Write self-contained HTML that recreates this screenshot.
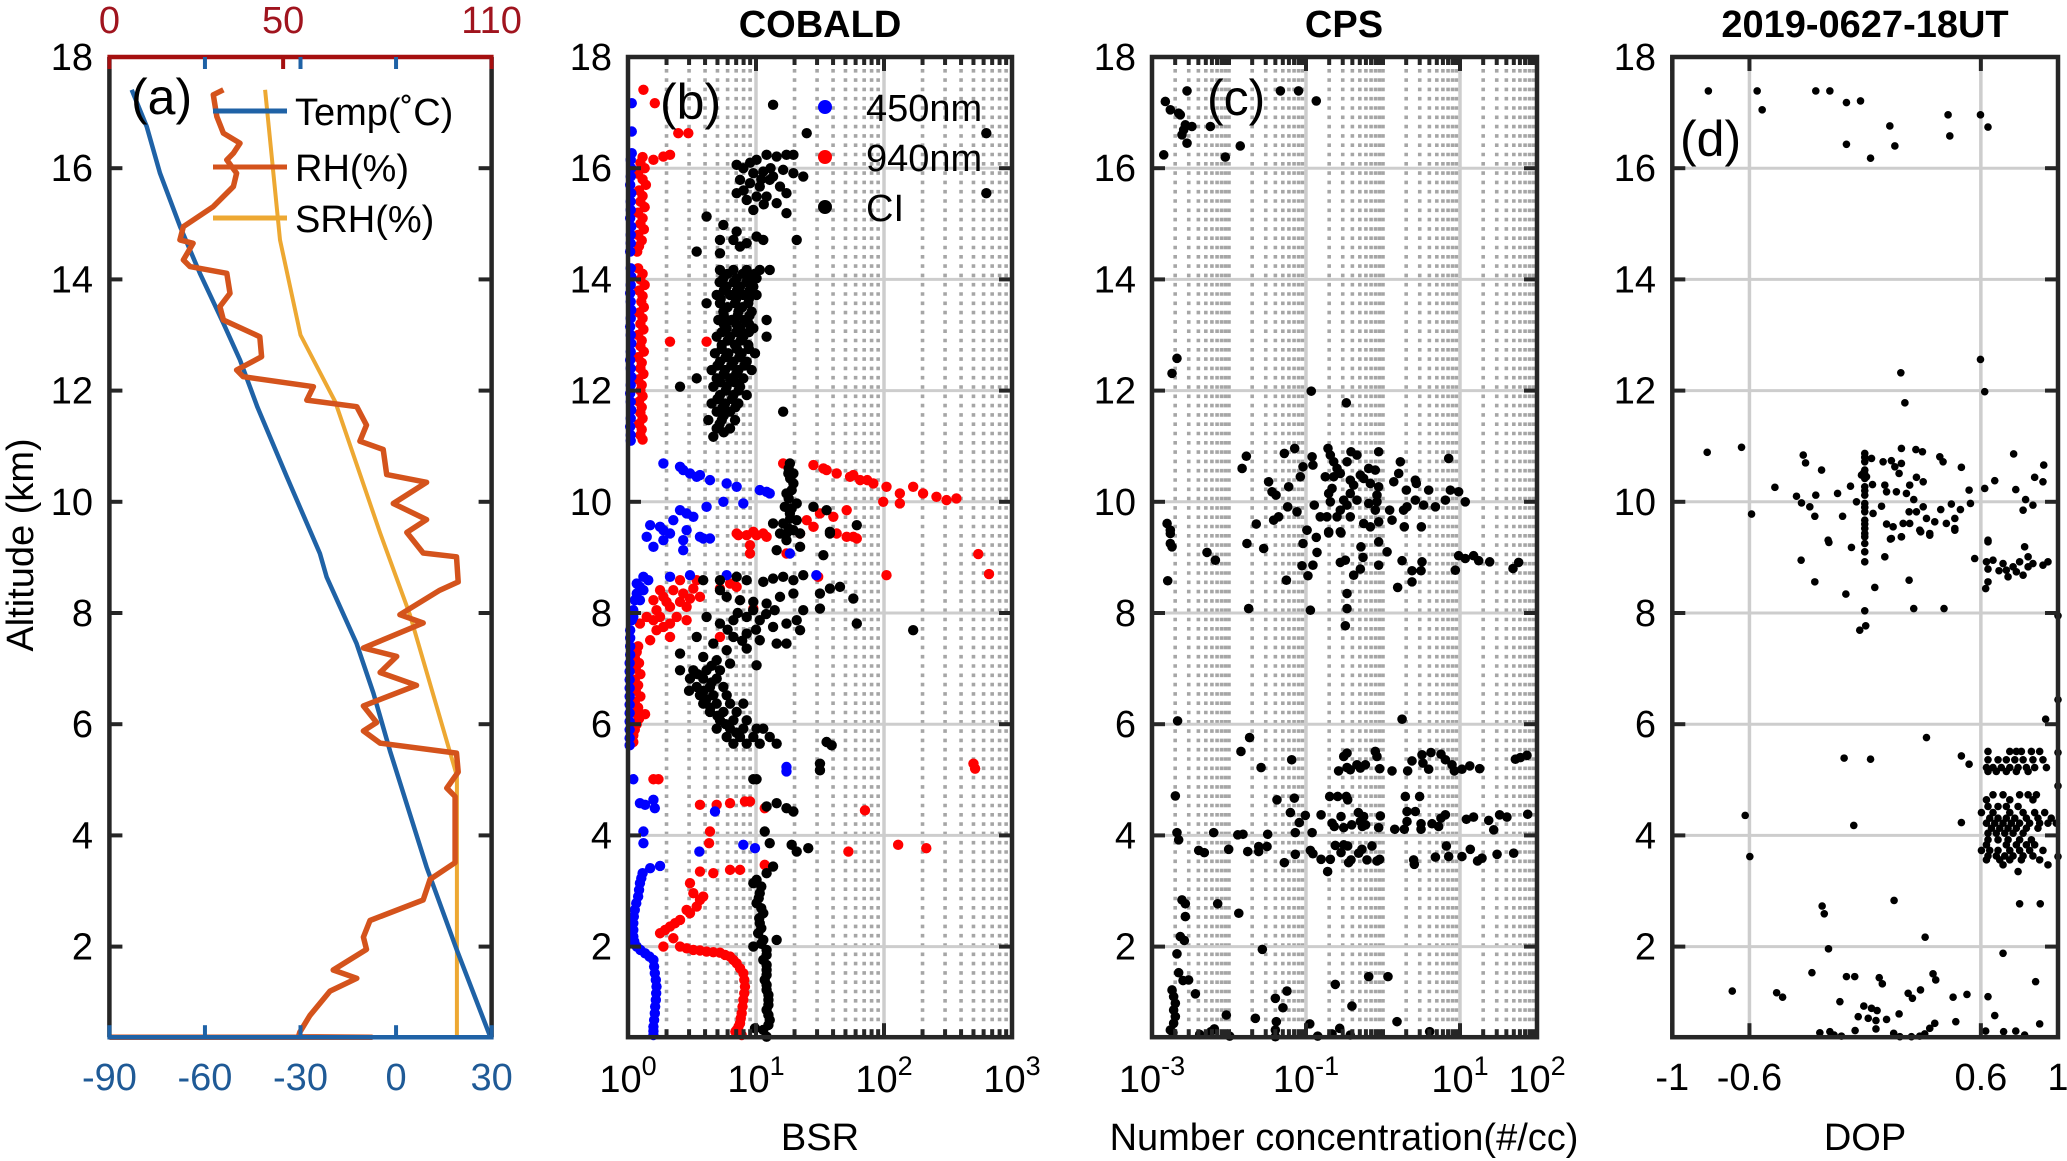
<!DOCTYPE html>
<html><head><meta charset="utf-8"><title>COBALD / CPS / DOP profiles</title>
<style>
html,body{margin:0;padding:0;background:#fff;}
svg{display:block;font-family:"Liberation Sans",Arial,sans-serif;}
</style></head>
<body>
<svg id="chart" xmlns="http://www.w3.org/2000/svg" width="2067" height="1161" viewBox="0 0 2067 1161"></svg>
<script>
// ---------- Panel (a) data: [value, altitude km] ----------
const tempProfile=[[-83.0,17.41],[-78.3,16.75],[-74.1,15.91],[-67.8,14.95],[-61.6,14.11],[-54.2,13.21],[-49.0,12.55],[-43.5,11.7],[-34.3,10.45],[-23.9,9.07],[-21.8,8.65],[-12.4,7.45],[-7.1,6.56],[-1.9,5.52],[9.6,3.43],[19.0,1.95],[29.5,0.39]];
const rhProfile=[[32.8,17.41],[29.9,17.32],[30.9,16.93],[32.8,16.63],[37.6,16.45],[35.7,16.27],[33.8,16.15],[36.6,15.91],[35.7,15.67],[29.9,15.31],[21.3,14.95],[20.3,14.71],[24.1,14.65],[21.3,14.35],[23.2,14.23],[33.8,14.11],[34.7,13.75],[31.8,13.51],[32.8,13.27],[43.3,12.97],[43.8,12.61],[36.6,12.37],[38.5,12.25],[58.7,12.07],[56.8,11.83],[71.2,11.71],[74.0,11.38],[72.1,11.09],[78.8,10.94],[79.8,10.49],[91.3,10.35],[81.7,9.97],[91.3,9.68],[85.6,9.45],[90.3,9.08],[99.9,9.01],[100.4,8.56],[95.1,8.41],[83.6,7.97],[90.3,7.82],[73.1,7.37],[82.7,7.22],[77.9,6.93],[88.4,6.70],[73.1,6.33],[76.9,6.03],[73.1,5.88],[77.9,5.66],[99.9,5.48],[100.4,5.14],[97.1,4.85],[99.5,4.70],[99.5,3.51],[92.3,3.21],[90.3,2.84],[75.0,2.47],[73.1,2.17],[74.0,1.95],[64.4,1.58],[71.2,1.43],[63.5,1.20],[57.7,0.76],[54.8,0.46],[54.4,0.38],[75.5,0.37],[0,0.37]];
const srhProfile=[[44.8,17.41],[49.1,14.71],[55.0,13.0],[65.0,11.8],[77.9,9.44],[86.5,7.97],[100,5.07],[100,0.37]];
const tempTicks=[-90,-60,-30,0,30];
const rhTicks=[0,50,110];
const altTicks=[2,4,6,8,10,12,14,16,18];

// ---------- Panel (b) COBALD BSR data: [BSR, altitude] ----------
const bsr450=[[1.07,17.17],[1.07,16.66],[1.07,16.27],[1.05,16.15],[1.06,16.0],[1.05,15.85],[1.04,15.7],[1.06,15.55],[1.05,15.4],[1.05,15.25],[1.04,15.1],[1.06,14.95],[1.05,14.8],[1.05,14.65],[1.04,14.5],[1.05,14.2],[1.06,14.05],[1.05,13.9],[1.04,13.75],[1.05,13.6],[1.06,13.45],[1.05,13.3],[1.04,13.15],[1.05,13.0],[1.06,12.85],[1.05,12.7],[1.04,12.55],[1.05,12.4],[1.06,12.25],[1.05,12.1],[1.04,11.95],[1.05,11.8],[1.06,11.65],[1.05,11.5],[1.04,11.35],[1.05,11.2],[1.05,11.1],
[1.89,10.69],[2.55,10.63],[3.05,10.51],[3.65,10.48],[4.37,10.39],[5.9,10.33],[7.06,10.27],[10.7,10.21],[12.8,10.15],[5.56,10.0],[7.96,9.97],[4.11,9.91],[2.87,9.79],[2.26,9.67],[1.78,9.55],[1.49,9.58],[2.13,9.43],[3.65,9.37],[2.87,9.49],[2.7,10.57],[3.44,10.45],[12.1,10.18],[2.55,9.85],[3.24,9.73],[1.89,9.49],
[1.4,9.37],[1.58,9.19],[1.89,9.31],[2.7,9.31],[3.87,9.34],[2.7,9.13],[4.37,9.34],
[1.32,8.65],[1.44,8.59],[1.24,8.47],[1.17,8.35],[1.13,8.23],[1.1,8.05],[1.07,7.87],[1.04,7.69],[1.04,7.55],[1.04,7.4],[1.04,7.25],[1.03,7.1],[1.03,6.95],[1.03,6.8],[1.03,6.65],[1.03,6.5],[1.03,6.35],[1.03,6.2],[1.03,6.05],[1.03,5.9],[1.03,5.75],[1.03,5.62],[1.17,8.53],[1.32,8.41],[1.24,8.23],[1.1,7.93],[2.13,8.65],[3.05,8.68],[5.9,8.68],[29.6,8.68],[18.4,9.07],
[1.1,5.01],[1.24,4.58],[1.58,4.64],[1.62,4.49],[1.36,4.55],[4.78,4.43],[1.32,4.07],[1.32,3.86],[3.61,3.71],[7.96,3.83],[9.82,3.77],[1.78,3.45],[1.49,3.41],[17.3,5.23],[17.3,5.15],
[1.3,3.32],[1.24,3.14],[1.2,2.9],[1.13,2.66],[1.1,2.42],[1.1,2.18],[1.17,2.0],[1.36,1.88],[1.58,1.76],[1.62,1.52],[1.67,1.28],[1.65,1.04],[1.62,0.8],[1.58,0.56],[1.58,0.41],[1.27,3.23],[1.22,3.02],[1.16,2.78],[1.11,2.54],[1.1,2.3],[1.12,2.09],[1.25,1.94],[1.47,1.82],[1.6,1.64],[1.65,1.4],[1.66,1.16],[1.63,0.92],[1.6,0.68],[1.58,0.48]];
const bsr940=[[1.32,17.41],[1.62,17.17],[2.47,16.63],[2.96,16.63],[1.89,16.21],[2.13,16.24],[1.58,16.15],[2.13,12.88],[4.11,12.88],
[1.3,16.2],[1.25,16.1],[1.35,16.0],[1.2,15.9],[1.3,15.8],[1.38,15.7],[1.22,15.6],[1.3,15.5],[1.25,15.4],[1.35,15.3],[1.2,15.2],[1.3,15.1],[1.25,15.0],[1.33,14.9],[1.2,14.8],[1.28,14.7],[1.22,14.6],[1.18,14.5],[1.2,14.2],[1.3,14.1],[1.25,14.0],[1.35,13.9],[1.22,13.8],[1.3,13.7],[1.27,13.6],[1.33,13.5],[1.22,13.4],[1.3,13.3],[1.25,13.2],[1.32,13.1],[1.2,13.0],[1.28,12.9],[1.25,12.8],[1.33,12.7],[1.2,12.6],[1.28,12.5],[1.25,12.4],[1.32,12.3],[1.2,12.2],[1.28,12.1],[1.25,12.0],[1.3,11.9],[1.22,11.8],[1.28,11.7],[1.25,11.6],[1.3,11.5],[1.22,11.4],[1.28,11.3],[1.25,11.2],[1.3,11.12],
[16.3,10.69],[28.1,10.66],[33.6,10.6],[42.7,10.51],[54.3,10.45],[65.1,10.39],[82.6,10.33],[104.6,10.27],[133,10.15],[169,10.27],[202,10.15],[257,10.09],[308,10.03],[368,10.06],[98.6,10.0],[133,9.97],[31.6,9.79],[40.2,9.73],[51.1,9.85],[24.9,9.67],[28.1,9.55],[22.1,9.43],[42.7,9.43],[57.6,9.37],[7.06,9.43],[9.53,9.46],[11.4,9.43],[35.6,10.57],[57.6,10.48],[74,10.39],
[7.28,9.4],[8.46,9.4],[10.1,9.4],[12.1,9.37],[8.98,9.22],[8.98,9.07],[17.3,9.07],[51.1,9.37],[61.3,9.34],[545,9.06],[661,8.7],[104.6,8.68],[30.6,8.65],
[1.58,8.23],[1.89,8.29],[2.26,8.41],[2.7,8.35],[3.24,8.44],[3.65,8.29],[2.13,8.11],[2.87,8.11],[1.67,8.05],[2.4,7.93],[1.58,7.87],[1.89,7.75],[1.4,7.93],[1.24,7.81],[2.13,7.57],[1.49,7.51],[2.87,7.87],[2.55,8.59],[3.44,8.59],[6.27,8.53],[5.23,8.44],[7.06,8.47],[9.53,8.08],[5.23,7.57],[1.78,8.41],[2.0,8.2],[2.55,8.2],[3.05,8.26],[1.78,7.93],[2.13,7.81],[1.67,7.69],
[1.2,7.4],[1.17,7.3],[1.13,7.2],[1.22,7.1],[1.15,7.0],[1.25,6.9],[1.13,6.8],[1.2,6.7],[1.15,6.6],[1.25,6.5],[1.13,6.4],[1.2,6.3],[1.15,6.2],[1.22,6.1],[1.17,6.0],[1.13,5.9],[1.1,5.8],[1.1,5.68],[1.36,6.18],
[500,5.29],[515,5.2],[1.58,5.01],[1.73,5.01],[3.65,4.55],[4.93,4.55],[6.27,4.58],[8.2,4.61],[8.98,4.61],[11.7,4.49],[71,4.45],[4.37,4.07],[4.3,3.86],[52.7,3.71],[129,3.83],[214,3.77],
[6.27,3.38],[7.5,3.38],[11.7,3.47],[3.65,3.35],[4.64,3.32],[3.05,3.14],[3.24,2.96],[3.65,2.84],[3.87,2.9],[3.44,2.72],[3.05,2.6],[2.55,2.48],[2.13,2.36],[1.78,2.24],[2.26,2.15],[1.89,2.0],[2.55,2.0],[3.24,1.94],[4.11,1.91],[5.23,1.89],[6.27,1.82],[7.06,1.7],[7.96,1.52],[8.2,1.28],[7.96,1.04],[7.73,0.8],[7.5,0.62],[7.06,0.5],[7.73,0.41],[2.87,2.66],[2.33,2.42],[1.95,2.3],[2.87,1.97],[3.65,1.93],[4.64,1.9],[5.73,1.85],[6.66,1.76],[7.5,1.61],[8.1,1.4],[8.1,1.16],[7.85,0.92],[7.6,0.71],[7.3,0.56],[6.9,0.47]];
const bsrCI=[[7.06,16.06],[7.96,16.0],[10.1,16.15],[12.1,16.24],[14.5,16.21],[17.3,16.24],[19.6,16.24],[9.53,15.91],[11.4,15.94],[13.6,15.85],[16.3,15.97],[19.6,15.91],[23.4,15.85],[7.5,15.79],[8.98,15.73],[10.7,15.67],[12.8,15.79],[15.4,15.67],[17.3,15.55],[7.06,15.55],[8.46,15.43],[10.1,15.49],[12.1,15.49],[14.5,15.37],[9.53,15.25],[17.3,15.19],[20.8,14.71],[13.6,17.14],[24.9,16.63],[630,16.63],[630,15.55],[4.11,15.13],[9,16.1],[11,15.8],[13,16.0],[8,15.6],[11.5,15.35],
[5.56,14.98],[7.06,14.86],[5.23,14.71],[6.66,14.71],[7.5,14.59],[8.46,14.65],[10.1,14.77],[11.4,14.71],[3.44,14.5],[5.23,14.47],
[5.23,14.17],[6.66,14.17],[8.46,14.17],[10.7,14.17],[12.8,14.17],[5.56,14.02],[7.06,14.02],[8.98,14.02],[10.1,14.02],[5.9,13.87],[7.5,13.87],[9.53,13.87],[4.93,13.72],[6.27,13.72],[7.96,13.72],[10.1,13.72],[4.11,13.57],[5.23,13.57],[6.86,13.57],[8.71,13.57],[5.56,13.42],[7.28,13.42],[9.25,13.42],[5.08,13.27],[6.46,13.27],[8.2,13.27],[12.1,13.27],[5.9,13.12],[7.5,13.12],[9.53,13.12],[4.93,12.97],[6.27,12.97],[7.96,12.97],[12.1,12.97],[5.4,12.82],[6.86,12.82],[8.71,12.82],[4.78,12.67],[6.08,12.67],[7.73,12.67],[9.82,12.67],[5.23,12.52],[6.66,12.52],[8.46,12.52],[4.5,12.37],[5.73,12.37],[7.28,12.37],[9.25,12.37],[3.44,12.22],[4.93,12.22],[6.27,12.22],[7.96,12.22],[2.55,12.07],[4.64,12.07],[5.9,12.07],[7.5,12.07],[5.23,11.92],[6.66,11.92],[8.46,11.92],[4.5,11.77],[5.73,11.77],[7.28,11.77],[4.93,11.62],[6.27,11.62],[16.3,11.62],[4.24,11.47],[5.4,11.47],[6.86,11.47],[4.93,11.32],[6.27,11.32],[4.64,11.17],
[6.0,14.1],[7.9,14.1],[9.8,14.1],[5.2,13.95],[6.7,13.95],[8.4,13.95],[5.6,13.8],[7.1,13.8],[8.9,13.8],[5.3,13.65],[7.0,13.65],[8.8,13.65],[6.0,13.5],[7.8,13.5],[5.6,13.35],[7.2,13.35],[8.9,13.35],[5.6,13.2],[7.0,13.2],[8.8,13.2],[5.4,13.05],[7.0,13.05],[8.8,13.05],[6.0,12.9],[7.6,12.9],[5.4,12.75],[7.1,12.75],[8.8,12.75],[5.8,12.6],[7.4,12.6],[5.0,12.45],[6.4,12.45],[8.1,12.45],[5.6,12.3],[7.0,12.3],[5.3,12.15],[6.8,12.15],[5.8,12.0],[7.3,12.0],[5.0,11.85],[6.5,11.85],[5.5,11.7],[6.9,11.7],[5.6,11.55],[5.2,11.4],[5.6,11.25],
[18.4,10.69],[17.9,10.51],[19.6,10.33],[17.3,10.15],[20.8,9.97],[18.4,9.79],[16.3,9.61],[20.8,9.67],[17.3,9.43],[22.1,9.43],[13.6,9.61],[28.1,9.91],[35.6,9.85],[61.3,9.58],[37.8,9.46],[19.6,10.51],[16.8,9.91],[19,10.21],[18,10.6],[18.5,10.42],[18,10.06],[19,9.88],[18.5,9.7],[18,9.52],
[15.4,9.43],[19.6,9.49],[14.5,9.13],[22.1,9.19],[33.6,9.04],[37.8,9.43],[17.3,9.31],
[3.87,8.59],[5.23,8.59],[7.06,8.65],[8.46,8.59],[11.4,8.56],[13.6,8.62],[16.3,8.65],[19.6,8.59],[23.4,8.68],[31.6,8.35],[37.8,8.44],[45.3,8.47],[57.6,8.26],[31.6,8.08],[5.9,8.29],[7.5,8.23],[9.53,8.2],[12.1,8.17],[15.4,8.29],[19.6,8.35],[23.4,8.05],[5.23,8.41],
[4.11,7.93],[5.23,7.81],[6.66,7.87],[8.46,7.93],[10.7,7.87],[13.6,7.75],[17.3,7.81],[22.1,7.69],[20.8,7.87],[61.3,7.81],[169,7.69],[6.66,7.57],[8.46,7.63],[10.7,7.51],[14.5,7.45],[17.3,7.45],[3.44,7.57],[4.64,7.45],[5.9,7.33],[8.46,7.36],[2.55,7.27],[3.87,7.21],[4.93,7.15],[6.27,7.09],[10.1,7.06],[7.2,8.0],[9.5,8.05],[12,7.98],[14,8.05],[6.0,7.7],[7.8,7.5],[10,7.7],
[2.55,6.97],[3.24,6.97],[4.11,6.97],[5.23,6.97],[3.05,6.82],[3.87,6.82],[4.93,6.82],[3.44,6.67],[4.37,6.67],[5.56,6.67],[3.65,6.52],[4.64,6.52],[5.9,6.52],[3.87,6.37],[4.93,6.37],[6.27,6.37],[7.96,6.37],[4.37,6.22],[5.56,6.22],[7.06,6.22],[5.23,6.07],[6.66,6.07],[8.46,6.07],[4.93,5.92],[6.27,5.92],[7.96,5.92],[10.1,5.92],[11.4,5.92],[5.9,5.77],[7.5,5.77],[9.53,5.77],[12.8,5.77],[6.66,5.65],[8.46,5.65],[10.7,5.65],[14.5,5.65],[35.6,5.68],[39,5.62],[3.5,6.9],[4.5,6.75],[3.9,6.6],[4.1,6.45],[4.4,6.3],[5.0,6.15],[5.8,6.0],[7.0,5.85],[3.0,6.6],[4.5,7.05],
[31.6,5.29],[31.6,5.17],[9.53,5.01],[10.1,5.01],[12.1,4.52],[14.5,4.58],[17.3,4.49],[19.6,4.43],[11.7,4.07],[12.8,3.86],[19,3.83],[20.8,3.71],[25.6,3.77],
[13.6,3.44],[12.1,3.32],[10.1,3.2],[9.53,3.14],[10.7,2.96],[10.1,2.78],[11.4,2.6],[10.7,2.42],[10.4,2.24],[11.4,2.12],[14.5,2.12],[9.53,2.0],[12.1,1.94],[11.4,1.76],[12.1,1.58],[11.7,1.4],[12.1,1.22],[12.5,1.04],[12.1,0.86],[12.8,0.68],[11.4,0.5],[9.82,0.53],[12.1,0.38],[11,3.08],[11,2.69],[11,2.33],[12.1,1.85],[12.1,1.67],[12.1,1.49],[12.1,1.31],[12.5,1.13],[12.5,0.95],[12.5,0.77],[12.5,0.59],[10.5,2.87],[10.6,2.51],[11,2.05]];
const bsrTickExp=[0,1,2,3];

// ---------- Panel (c) CPS number concentration: [#/cc, altitude] ----------
const cpsConc=[[1.49e-3,17.2],[1.73e-3,17.05],[2.22e-3,16.99],[2.33e-3,16.96],[2.71e-3,16.78],[3.3e-3,16.75],[2.58e-3,16.69],[2.45e-3,16.6],[2.85e-3,16.45],[1.42e-3,16.24],[5.73e-3,16.75],[8.95e-3,16.2],[0.014,16.4],[2.85e-3,17.39],[0.0465,17.39],[0.08,17.39],[0.136,17.21],
[2.11e-3,12.58],[1.82e-3,12.31],[0.117,11.99],[0.334,11.78],
[0.0148,10.6],[0.0168,10.82],[0.0327,10.36],[0.0362,10.18],[0.0408,10.12],[0.0596,10.27],[0.0523,10.87],[0.0713,10.96],[0.0914,10.63],[0.0844,10.45],[0.12,10.81],[0.123,10.66],[0.128,9.94],[0.193,10.96],[0.207,10.84],[0.229,10.72],[0.253,10.6],[0.341,10.72],[0.384,10.9],[0.459,10.84],[0.879,10.9],[0.652,10.6],[0.794,10.57],[1.68,10.72],[1.6,10.51],[1.38,10.36],[2.63,10.39],[2.71,10.33],[2.01,10.21],[3.92,10.21],[7.13,10.78],[7.49,10.21],[9.6,10.18],[11.7,10.0],[6.46,10.03],[4.79,9.91],[3.37,9.94],[2.63,10.03],[2.05,9.91],[1.85,9.85],[1.22,9.85],[0.879,10.27],[0.835,10.12],[0.835,10.0],[0.652,9.97],[0.794,9.85],[0.508,10.48],[0.561,10.42],[0.685,10.33],[0.416,10.3],[0.376,10.39],[0.309,10.03],[0.341,9.94],[0.279,9.85],[0.207,10.0],[0.197,10.15],[0.218,10.24],[0.178,10.45],[0.229,10.45],[0.279,10.51],[0.376,10.15],[0.459,10.03],[0.153,9.73],[0.187,9.73],[0.253,9.73],[0.376,9.73],[0.561,9.61],[0.685,9.55],[0.879,9.64],[1.31,9.67],[1.89,9.55],[3.15,9.55],[0.103,9.49],[0.197,9.46],[0.279,9.46],[0.038,9.67],[0.0441,9.73],[0.0764,9.82],[0.0578,9.91],[0.0226,9.6],[1.57e-3,9.61],[1.73e-3,9.49],
[1.73e-3,9.43],[1.73e-3,9.25],[1.82e-3,9.19],[1.6e-3,8.58],[5.18e-3,9.09],[6.65e-3,8.95],[0.0171,9.25],[0.0282,9.16],[0.018,8.08],[0.0556,8.59],[0.0914,9.25],[0.0887,8.85],[0.123,8.86],[0.106,8.67],[0.136,9.36],[0.139,9.09],[0.103,9.49],[0.197,9.44],[0.285,9.44],[0.279,8.91],[0.324,8.95],[0.416,8.68],[0.508,8.79],[0.517,9.19],[0.55,9.0],[0.879,9.28],[0.879,8.86],[1.13,9.1],[0.341,8.35],[0.341,8.08],[0.324,7.77],[0.114,8.05],[1.77,8.94],[2.38,8.76],[2.38,8.56],[1.55,8.46],[3.21,8.92],[3.12,8.76],[8.69,8.77],[9.6,9.03],[11.7,8.98],[15.0,9.03],[17.5,8.94],[24.3,8.92],[48.8,8.8],[57.8,8.91],
[2.15e-3,6.06],[1.77,6.09],
[0.0185,5.76],[0.0143,5.51],[0.0261,5.22],[0.0652,5.36],[0.309,5.42],[0.341,5.48],[0.265,5.16],[0.341,5.22],[0.376,5.18],[0.459,5.27],[0.508,5.21],[0.59,5.27],[0.794,5.51],[0.835,5.42],[0.906,5.2],[1.31,5.16],[2.09,5.16],[2.38,5.34],[3.21,5.45],[3.3,5.3],[3.92,5.19],[4.2,5.49],[5.66,5.46],[6.46,5.36],[7.87,5.27],[8.44,5.16],[10.6,5.19],[13.4,5.25],[18.0,5.2],[52.4,5.37],[60.8,5.4],[74.1,5.44],
[2.01e-3,4.71],[0.042,4.64],[0.0705,4.67],[0.203,4.7],[0.258,4.7],[0.334,4.7],[0.348,4.64],[0.0627,4.41],[0.098,4.36],[0.0818,4.23],[0.0726,4.05],[0.12,4.05],[0.157,4.37],[0.218,4.22],[0.233,4.16],[0.285,4.34],[0.309,4.14],[0.392,4.19],[0.479,4.41],[0.508,4.25],[0.561,4.34],[0.595,4.19],[0.539,4.16],[0.923,4.35],[0.879,4.14],[1.42,4.11],[1.95,4.7],[2.99,4.7],[2.05,4.43],[2.63,4.43],[2.05,4.25],[1.89,4.11],[3.12,4.21],[3.12,4.11],[4.33,4.21],[5.28,4.16],[5.66,4.31],[6.46,4.37],[12.1,4.29],[15.0,4.33],[23.6,4.27],[27.4,4.1],[32.7,4.37],[40.7,4.33],[75.7,4.38],
[2.11e-3,4.05],[2.22e-3,3.92],[6.32e-3,4.05],[4.04e-3,3.73],[4.78e-3,3.69],[9.91e-3,3.75],[0.013,4.01],[0.0152,4.02],[0.0175,3.71],[0.0243,3.71],[0.0243,3.8],[0.0312,3.8],[0.0318,4.02],[0.0523,3.51],[0.0726,3.66],[0.114,3.73],[0.123,3.67],[0.157,3.57],[0.207,3.57],[0.191,3.35],[0.24,3.82],[0.309,3.83],[0.348,3.81],[0.285,3.69],[0.384,3.56],[0.358,3.51],[0.483,3.68],[0.533,3.75],[0.619,3.56],[0.719,3.81],[0.835,3.54],[0.906,3.57],[2.5,3.56],[2.55,3.48],[4.79,3.61],[6.65,3.81],[7.13,3.62],[10.6,3.62],[13.6,3.75],[16.9,3.54],[19.3,3.59],[30.3,3.66],[49.8,3.68],
[2.45e-3,2.84],[2.71e-3,2.77],[2.71e-3,2.54],[7.13e-3,2.77],[0.0134,2.6],[2.33e-3,2.18],[2.63e-3,2.11],[2.11e-3,1.87],[2.22e-3,1.53],[2.53e-3,1.39],[2.99e-3,1.4],[3.66e-3,1.15],[1.82e-3,1.22],[1.91e-3,1.1],[2.01e-3,0.98],[1.91e-3,0.86],[2.01e-3,0.74],[1.91e-3,0.62],[1.73e-3,0.5],[1.87e-3,0.45],[9.23e-3,0.77],[0.0271,1.95],[0.04,1.07],[0.0502,0.9],[0.0566,1.2],[0.022,0.71],[0.0412,0.65],[0.04,0.5],[0.04,0.38],[0.112,0.61],[0.142,0.39],[0.218,0.43],[0.274,0.53],[0.376,0.41],[0.24,1.32],[0.395,0.93],[0.652,1.46],[1.16,1.46],[1.52,0.65],[4.04,0.47],[4.16e-3,0.42],[5.83e-3,0.47],[6.45e-3,0.52],[0.0102,0.39]];
const cpsTickExp=[-3,-1,1,2];

// ---------- Panel (d) DOP: [DOP, altitude] ----------
const dopValues=[[-0.813,17.39],[-0.56,17.39],[-0.534,17.05],[-0.256,17.39],[-0.183,17.39],[-0.097,17.18],[-0.024,17.21],[-0.097,16.43],[0.028,16.18],[0.128,16.76],[0.154,16.4],[0.43,16.96],[0.439,16.58],[0.598,16.96],[0.637,16.74],
[0.185,12.32],[0.598,12.56],[0.62,11.98],[0.206,11.78],
[-0.819,10.89],[-0.641,10.98],[-0.589,9.78],[-0.468,10.26],[-0.356,10.1],[-0.321,10.84],[-0.309,10.7],[-0.33,9.98],[-0.287,9.91],[-0.256,10.12],[-0.261,9.74],[-0.226,10.57],[-0.143,10.15],[-0.117,9.74],[-0.076,10.28],[-0.045,10.0],[-0.01,10.51],[0.033,10.78],[0.038,10.31],[0.041,9.79],[0.085,9.92],[0.093,10.72],[0.102,10.3],[0.111,10.18],[0.136,10.74],[0.154,10.63],[0.176,10.51],[0.188,10.69],[0.188,10.96],[0.162,10.18],[0.214,10.15],[0.231,10.3],[0.252,10.04],[0.263,10.94],[0.297,10.9],[0.266,10.44],[0.301,10.36],[0.228,9.82],[0.266,9.82],[0.301,9.91],[0.318,9.7],[0.361,9.64],[0.387,10.81],[0.404,10.72],[0.499,10.62],[0.392,9.86],[0.447,9.96],[0.465,9.7],[0.494,9.86],[0.539,10.21],[0.546,9.97],[0.62,10.24],[0.672,10.38],[0.77,10.86],[0.781,10.22],[0.832,10.04],[0.819,9.85],[0.87,9.94],[0.879,10.44],[0.922,10.36],[0.926,10.66],[0.111,9.6],[0.145,9.55],[0.197,9.61],[0.231,9.61],[0.283,9.49],[0.335,9.43],[0.465,9.52],[0.421,9.61],[0.136,9.34],[0.188,9.37],[-0.192,9.31],[0.637,9.31],
[-0.002,10.87],[-0.002,10.72],[-0.002,10.57],[-0.002,10.42],[-0.002,10.27],[-0.002,10.12],[-0.002,9.97],[-0.002,9.82],[-0.002,9.67],[-0.002,9.52],[-0.002,9.37],[0.007,10.45],[-0.019,10.48],[-0.002,10.8],[-0.002,10.5],[-0.002,10.2],[-0.002,9.9],[-0.002,9.6],
[-0.188,9.27],[-0.071,9.18],[-0.002,9.43],[-0.002,9.25],[-0.002,9.1],[-0.002,8.92],[0.131,9.33],[0.188,9.37],[0.102,9.01],[0.288,9.46],[0.335,9.4],[0.465,9.49],[-0.332,8.95],[-0.261,8.56],[-0.1,8.34],[0.05,8.46],[0.228,8.59],[-0.002,8.04],[0.252,8.08],[0.409,8.08],[-0.028,7.69],[0.003,7.77],[0.637,9.28],[0.568,8.98],[0.629,8.92],[0.637,8.79],[0.694,8.76],[0.715,8.89],[0.741,8.65],[0.767,8.83],[0.801,8.92],[0.827,9.19],[0.819,8.68],[0.845,8.83],[0.87,8.89],[0.922,8.86],[0.948,8.92],[0.637,8.56],[0.625,8.44],[1.0,7.95],[0.663,8.95],[0.732,8.77],[0.784,8.74],[0.845,9.01],
[1.0,6.44],[0.936,6.09],[0.318,5.76],[-0.109,5.39],[0.028,5.37],[0.499,5.43],[0.539,5.28],[-0.622,4.36],[-0.598,3.62],[-0.059,4.18],[0.499,4.23],[1.0,5.49],[1.0,4.89],[1.0,3.62],
[0.637,5.51],[0.75,5.51],[0.784,5.51],[0.81,5.51],[0.862,5.51],[0.905,5.51],[0.637,5.36],[0.689,5.36],[0.732,5.36],[0.776,5.36],[0.819,5.36],[0.87,5.36],[0.922,5.36],[0.629,5.22],[0.663,5.22],[0.706,5.22],[0.75,5.22],[0.793,5.22],[0.836,5.22],[0.879,5.22],[0.94,5.22],[0.637,5.15],[0.68,5.15],[0.732,5.15],[0.784,5.15],[0.845,5.15],
[0.663,4.73],[0.715,4.73],[0.801,4.73],[0.845,4.73],[0.888,4.73],[0.629,4.64],[0.75,4.64],[0.87,4.64],[0.637,4.52],[0.689,4.52],[0.732,4.52],[0.793,4.52],[0.603,4.41],[0.663,4.41],[0.75,4.41],[0.819,4.41],[0.879,4.41],[0.931,4.41],[0.646,4.31],[0.689,4.31],[0.732,4.31],[0.776,4.31],[0.836,4.31],[0.896,4.31],[0.965,4.31],[0.629,4.22],[0.672,4.22],[0.715,4.22],[0.758,4.22],[0.801,4.22],[0.853,4.22],[0.905,4.22],[0.948,4.22],[0.991,4.22],[0.655,4.13],[0.698,4.13],[0.741,4.13],[0.784,4.13],[0.836,4.13],[0.896,4.13],[0.637,4.04],[0.68,4.04],[0.724,4.04],[0.767,4.04],[0.819,4.04],[0.637,3.92],[0.689,3.92],[0.741,3.92],[0.801,3.92],[0.862,3.92],[0.629,3.83],[0.732,3.83],[0.784,3.83],[0.836,3.83],[0.879,3.83],[0.603,3.73],[0.646,3.73],[0.689,3.73],[0.75,3.73],[0.801,3.73],[0.853,3.73],[0.922,3.73],[0.637,3.63],[0.68,3.63],[0.724,3.63],[0.767,3.63],[0.819,3.63],[0.87,3.63],[0.629,3.56],[0.698,3.56],[0.75,3.56],[0.81,3.56],[0.905,3.56],[0.715,3.47],[0.948,3.47],[0.793,3.35],
[-0.223,2.73],[-0.212,2.59],[0.15,2.83],[0.801,2.77],[0.908,2.77],[-0.19,1.96],[0.311,2.17],[0.715,1.88],[-0.276,1.53],[-0.097,1.46],[-0.054,1.46],[0.073,1.44],[0.089,1.33],[0.352,1.51],[0.366,1.4],[0.884,1.37],[-0.689,1.2],[-0.459,1.17],[-0.428,1.09],[-0.131,1.01],[0.223,1.16],[0.245,1.07],[0.287,1.22],[0.456,1.09],[0.528,1.14],[0.637,1.1],[-0.007,0.93],[0.033,0.89],[0.062,0.85],[-0.036,0.74],[0.016,0.71],[0.056,0.67],[0.111,0.69],[0.176,0.79],[0.672,0.76],[0.361,0.62],[0.335,0.53],[0.47,0.65],[0.905,0.61],[-0.235,0.45],[-0.183,0.47],[-0.161,0.41],[-0.123,0.39],[-0.052,0.49],[0.056,0.52],[0.148,0.44],[0.18,0.38],[0.24,0.38],[0.283,0.39],[0.309,0.43],[0.625,0.48],[0.718,0.47],[0.781,0.48],[0.827,0.41]];
const dopTicks=[-1,-0.6,0.6,1];
const dopLabels=['-1','-0.6','0.6','1'];

// ---------- Rendering ----------
const NS='http://www.w3.org/2000/svg';
const svg=document.getElementById('chart');
function mk(tag,attrs,parent){const e=document.createElementNS(NS,tag);for(const k in attrs)e.setAttribute(k,attrs[k]);(parent||svg).appendChild(e);return e;}
const TOP=57,BOT=1037.2;
const yAlt=a=>TOP+(18-a)*55.6;
const A={x0:109.4,x1:491.6};
const sxTemp=t=>A.x0+(t+90)*(A.x1-A.x0)/120;
const sxRH=r=>A.x0+r*(A.x1-A.x0)/110;
const B={x0:628,x1:1012};
const sxB=v=>B.x0+Math.log10(v)*128;
const C={x0:1152,x1:1537};
const sxC=v=>C.x0+(Math.log10(v)+3)*77;
const D={x0:1672.3,x1:2058};
const sxD=v=>D.x0+(v+1)*(D.x1-D.x0)/2;
const FS=38;
const GRID='#cdcdcd', DOT='#a6a6a6';

function txt(parent,x,y,s,attrs){const t=mk('text',Object.assign({x:x,y:y,'font-size':FS,fill:'#000'},attrs||{}),parent);t.textContent=s;return t;}

function yAxisLabels(g,xRight){
  altTicks.forEach(a=>{
    const t=txt(g,xRight,yAlt(a)+13,String(a),{'text-anchor':'end'});
    
    
  });
}
function hGrid(g,p){
  altTicks.forEach(a=>{ if(a===18)return;
    const l=mk('line',{x1:p.x0,x2:p.x1,y1:yAlt(a),y2:yAlt(a),stroke:GRID,'stroke-width':3},g);
    
    
  });
}
function frameTicks(g,p,color){
  altTicks.forEach(a=>{
    const y=yAlt(a);
    const l1=mk('line',{x1:p.x0,x2:p.x0+13,y1:y,y2:y,stroke:color||'#262626','stroke-width':4},g);
    
    
    const l2=mk('line',{x1:p.x1-13,x2:p.x1,y1:y,y2:y,stroke:color||'#262626','stroke-width':4},g);
    
    
  });
}
function box(g,p){
  const r=mk('rect',{x:p.x0,y:TOP,width:p.x1-p.x0,height:BOT-TOP,fill:'none',stroke:'#262626','stroke-width':4.5},g);
  
  
}
function dots(g,data,sx,r,fill,name){
  data.forEach(d=>{
    const c=mk('circle',{cx:sx(d[0]),cy:yAlt(d[1]),r:r,fill:fill},g);
    
    
  });
}
function pathOf(data,sx){return data.map((d,i)=>(i?'L':'M')+sx(d[0]).toFixed(1)+','+yAlt(d[1]).toFixed(1)).join('');}
function logLabel(g,x,exp){
  const t=mk('text',{x:x,y:1092,'font-size':FS,'text-anchor':'middle',fill:'#000'},g);
  const b=mk('tspan',{},t);b.textContent='10';
  const e=mk('tspan',{dy:-17,'font-size':27},t);e.textContent=String(exp);
  
  
}

// ===== Panel (a) =====
const gA=mk('g',{});


const altTitle=txt(gA,0,0,'Altitude (km)',{'text-anchor':'middle',transform:'translate(33,545) rotate(-90)'});


yAxisLabels(gA,93);
const srhLine=mk('path',{d:pathOf(srhProfile,sxRH),fill:'none',stroke:'#EDA832','stroke-width':4,'stroke-linejoin':'round'},gA);


const tLine=mk('path',{d:pathOf(tempProfile,sxTemp),fill:'none',stroke:'#1f62a6','stroke-width':4.5,'stroke-linejoin':'round'},gA);


const rhLine=mk('path',{d:pathOf(rhProfile,sxRH),fill:'none',stroke:'#D4531C','stroke-width':5.5,'stroke-linejoin':'round'},gA);


// axes of (a)
const aLeft=mk('line',{x1:A.x0,x2:A.x0,y1:TOP,y2:BOT,stroke:'#262626','stroke-width':4.5},gA);


const aRight=mk('line',{x1:A.x1,x2:A.x1,y1:TOP,y2:BOT,stroke:'#262626','stroke-width':4.5},gA);


frameTicks(gA,A);
const aTop=mk('line',{x1:A.x0-2,x2:A.x1+2,y1:TOP,y2:TOP,stroke:'#A50F0F','stroke-width':4.5},gA);


const aBot=mk('line',{x1:A.x0-2,x2:A.x1+2,y1:BOT,y2:BOT,stroke:'#1f62a6','stroke-width':4.5},gA);


tempTicks.forEach(t=>{
  const x=sxTemp(t);
  const tk=mk('line',{x1:x,x2:x,y1:BOT,y2:BOT-12,stroke:'#1f62a6','stroke-width':4},gA);
  
  
  const tk2=mk('line',{x1:x,x2:x,y1:TOP,y2:TOP+12,stroke:'#1f62a6','stroke-width':4},gA);
  
  
  const lb=txt(gA,x,1090,String(t),{'text-anchor':'middle',fill:'#1f5a96'});
  
  
});
rhTicks.forEach(r=>{
  const x=sxRH(r);
  const tk=mk('line',{x1:x,x2:x,y1:TOP,y2:TOP+12,stroke:'#A50F0F','stroke-width':4},gA);
  
  
  const lb=txt(gA,x,33,String(r),{'text-anchor':'middle',fill:'#A0141E'});
  
  
});
const labA=txt(gA,131,114,'(a)',{'font-size':50});


[['Temp(˚C)','#1f62a6',111],['RH(%)','#D4531C',167],['SRH(%)','#EDA832',218]].forEach(e=>{
  const l=mk('line',{x1:213,x2:287,y1:e[2],y2:e[2],stroke:e[1],'stroke-width':5},gA);
  
  
  const t=txt(gA,295,e[2]+14,e[0]);
  
  
});

// ===== Panel (b) =====
const gB=mk('g',{});


for(let d=0;d<3;d++){for(let m=2;m<=9;m++){
  const x=sxB(m*Math.pow(10,d));
  const l=mk('line',{x1:x,x2:x,y1:TOP+12,y2:BOT-12,stroke:DOT,'stroke-width':3.6,'stroke-dasharray':'3.6 5.7'},gB);
  
  
}}
hGrid(gB,B);
[10,100].forEach(v=>{
  const l=mk('line',{x1:sxB(v),x2:sxB(v),y1:TOP,y2:BOT,stroke:GRID,'stroke-width':3.5},gB);
  
  
});
dots(gB,bsr940,sxB,5.2,'#ff0000','point-940nm');
dots(gB,bsr450,sxB,5.2,'#0000ff','point-450nm');
dots(gB,bsrCI,sxB,5.2,'#000','point-ci');
box(gB,B);
frameTicks(gB,B);
for(let d=0;d<3;d++){for(let m=1;m<=9;m++){
  if(d===0&&m===1)continue;
  const x=sxB(m*Math.pow(10,d)); const len=m===1?14:8;
  const t1=mk('line',{x1:x,x2:x,y1:TOP,y2:TOP+len,stroke:'#262626','stroke-width':4},gB);
  
  
  const t2=mk('line',{x1:x,x2:x,y1:BOT,y2:BOT-len,stroke:'#262626','stroke-width':4},gB);
  
  
}}
yAxisLabels(gB,612);
bsrTickExp.forEach(e=>logLabel(gB,sxB(Math.pow(10,e)),e));
const tB=txt(gB,820,37,'COBALD',{'text-anchor':'middle','font-weight':'bold'});


const xB=txt(gB,820,1150,'BSR',{'text-anchor':'middle'});


const labB=txt(gB,660,119,'(b)',{'font-size':50});


[['450nm','#0000ff',107],['940nm','#ff0000',157],['CI','#000',207]].forEach(e=>{
  const c=mk('circle',{cx:825,cy:e[2],r:7,fill:e[1]},gB);
  
  
  const t=txt(gB,866,e[2]+14,e[0]);
  
  
});

// ===== Panel (c) =====
const gC=mk('g',{});


for(let d=-3;d<2;d++){for(let m=1;m<=9;m++){
  const v=m*Math.pow(10,d); if(d===-3&&m===1)continue;
  if((d===-1||d===1)&&m===1)continue;
  const x=sxC(v);
  const l=mk('line',{x1:x,x2:x,y1:TOP+12,y2:BOT-12,stroke:DOT,'stroke-width':3.6,'stroke-dasharray':'3.6 5.7'},gC);
  
  
}}
hGrid(gC,C);
[0.1,10].forEach(v=>{
  const l=mk('line',{x1:sxC(v),x2:sxC(v),y1:TOP,y2:BOT,stroke:GRID,'stroke-width':3.5},gC);
  
  
});
dots(gC,cpsConc,sxC,4.8,'#000','point-concentration');
box(gC,C);
frameTicks(gC,C);
for(let d=-3;d<2;d++){for(let m=1;m<=9;m++){
  if(d===-3&&m===1)continue;
  const x=sxC(m*Math.pow(10,d)); const len=(m===1&&(d===-1||d===1))?14:8;
  const t1=mk('line',{x1:x,x2:x,y1:TOP,y2:TOP+len,stroke:'#262626','stroke-width':4},gC);
  
  
  const t2=mk('line',{x1:x,x2:x,y1:BOT,y2:BOT-len,stroke:'#262626','stroke-width':4},gC);
  
  
}}
yAxisLabels(gC,1136);
cpsTickExp.forEach(e=>logLabel(gC,sxC(Math.pow(10,e)),e));
const tC=txt(gC,1344,37,'CPS',{'text-anchor':'middle','font-weight':'bold'});


const xC=txt(gC,1344,1150,'Number concentration(#/cc)',{'text-anchor':'middle'});


const labC=txt(gC,1207,115,'(c)',{'font-size':50});



// ===== Panel (d) =====
const gD=mk('g',{});


hGrid(gD,D);
[-0.6,0.6].forEach(v=>{
  const l=mk('line',{x1:sxD(v),x2:sxD(v),y1:TOP,y2:BOT,stroke:GRID,'stroke-width':3.5},gD);
  
  
});
dots(gD,dopValues,sxD,3.8,'#000','point-dop');
box(gD,D);
frameTicks(gD,D);
dopTicks.forEach((v,i)=>{
  const x=sxD(v);
  const t1=mk('line',{x1:x,x2:x,y1:TOP,y2:TOP+14,stroke:'#262626','stroke-width':4},gD);
  
  
  const t2=mk('line',{x1:x,x2:x,y1:BOT,y2:BOT-14,stroke:'#262626','stroke-width':4},gD);
  
  
  const lb=txt(gD,x,1090,dopLabels[i],{'text-anchor':'middle'});
  
  
});
yAxisLabels(gD,1656);
const tD=txt(gD,1865,37,'2019-0627-18UT',{'text-anchor':'middle','font-weight':'bold'});


const xD=txt(gD,1865,1150,'DOP',{'text-anchor':'middle'});


const labD=txt(gD,1680,156,'(d)',{'font-size':50});


</script>
</body></html>
